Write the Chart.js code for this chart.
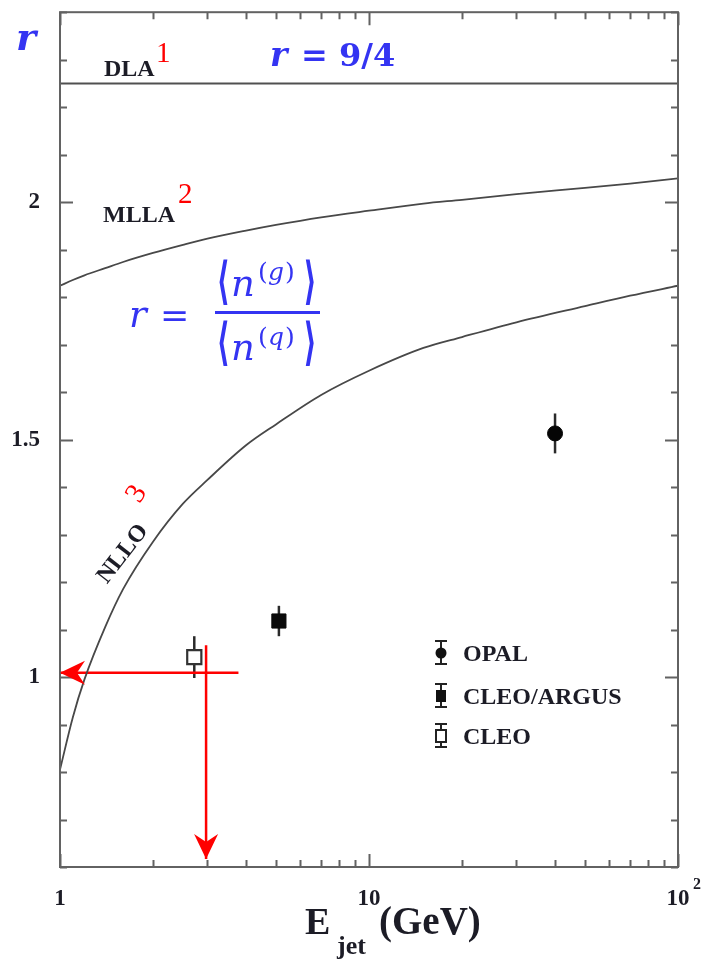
<!DOCTYPE html>
<html>
<head>
<meta charset="utf-8">
<title>Gluon to quark jet multiplicity ratio</title>
<script src="https://cdn.jsdelivr.net/npm/chart.js@4.4.1/dist/chart.umd.min.js"></script>
<style>
  html, body { margin: 0; padding: 0; background: #ffffff; }
  #wrap { width: 702px; height: 961px; position: relative; }
</style>
</head>
<body>
<div id="wrap"><canvas id="chart" width="702" height="961"></canvas></div>
<script>
// Jet energies (GeV) at which the theory predictions are tabulated
const curveEnergy = [1, 1.1, 1.2, 1.4, 1.6, 2, 2.5, 3, 4, 5, 7, 10, 15, 20, 30, 50, 70, 100];
// Modified leading log approximation
const mllaRatio = [1.824, 1.836, 1.846, 1.861, 1.874, 1.893, 1.910, 1.923, 1.940, 1.952, 1.968, 1.982, 1.997, 2.005, 2.017, 2.030, 2.039, 2.050];
// Next-to-next-to-leading order
const nlloRatio = [0.805, 0.915, 0.995, 1.105, 1.185, 1.285, 1.365, 1.415, 1.488, 1.532, 1.594, 1.645, 1.693, 1.716, 1.747, 1.781, 1.803, 1.824];
// Double logarithmic approximation: r = 9/4
const dlaEnergy = [1, 100];
const dlaRatio = [2.25, 2.25];

// Measurements
const opalEnergy = [40.0];
const opalRatio = [1.513];
const opalError = [0.042];
const cleoArgusEnergy = [5.11];
const cleoArgusRatio = [1.118];
const cleoArgusError = [0.032];
const cleoEnergy = [2.72];
const cleoRatio = [1.042];
const cleoError = [0.044];

// Read-off guides (arrows)
const guideHEnergy = [3.78, 1.0];
const guideHRatio = [1.009, 1.009];
const guideVEnergy = [2.97, 2.97];
const guideVRatio = [1.067, 0.617];

// Axes
const xMin = 1, xMax = 100;
const yMin = 0.6, yMax = 2.4;
const xLabelValues = [1, 10, 100];
const xLabelTexts = ['1', '10', '10'];
const xLabelExponents = ['', '', '2'];
const yLabelValues = [1, 1.5, 2];
const yLabelTexts = ['1', '1.5', '2'];
const xTickMarks = [1, 2, 3, 4, 5, 6, 7, 8, 9, 10, 20, 30, 40, 50, 60, 70, 80, 90, 100];
const xMajorMarks = [1, 10, 100];
const yTickMarks = [0.6, 0.7, 0.8, 0.9, 1.0, 1.1, 1.2, 1.3, 1.4, 1.5, 1.6, 1.7, 1.8, 1.9, 2.0, 2.1, 2.2, 2.3, 2.4];
const yMajorMarks = [1.0, 1.5, 2.0];

const legendNames = ['OPAL', 'CLEO/ARGUS', 'CLEO'];

const SERIF = '"Liberation Serif", "Times New Roman", serif';
const MATH = '"DejaVu Serif", serif';
const BLUE = '#3434f2';
const RED = '#ff0000';
const INK = '#1c1c26';

const toPoints = (xs, ys) => xs.map((x, i) => ({ x: x, y: ys[i] }));

// Scales keep the plot frame fixed: no extra room for edge labels
const noScalePadding = s => { s.paddingTop = 0; s.paddingBottom = 0; s.paddingLeft = 0; s.paddingRight = 0; };

// Frame, inward tick marks, error bars, arrowheads and annotations
const decorations = {
  id: 'decorations',
  beforeDatasetsDraw(chart) {
    const { ctx, scales: { x, y } } = chart;
    ctx.save();
    ctx.strokeStyle = '#2a2a2a';
    ctx.lineWidth = 2.5;
    const bars = [[opalEnergy, opalRatio, opalError], [cleoArgusEnergy, cleoArgusRatio, cleoArgusError], [cleoEnergy, cleoRatio, cleoError]];
    bars.forEach(([es, rs, errs]) => {
      es.forEach((e, i) => {
        const px = x.getPixelForValue(e);
        ctx.beginPath();
        ctx.moveTo(px, y.getPixelForValue(rs[i] + errs[i]));
        ctx.lineTo(px, y.getPixelForValue(rs[i] - errs[i]));
        ctx.stroke();
      });
    });
    ctx.restore();
  },
  afterDatasetsDraw(chart) {
    const { ctx, chartArea: a, scales: { x, y } } = chart;
    ctx.save();
    // frame
    ctx.strokeStyle = '#626262';
    ctx.lineWidth = 2;
    ctx.strokeRect(a.left, a.top, a.right - a.left, a.bottom - a.top);
    // ticks
    yTickMarks.forEach(v => {
      const py = Math.round(y.getPixelForValue(v)) + 0.5;
      const len = yMajorMarks.some(m => Math.abs(m - v) < 1e-6) ? 13 : 7;
      ctx.beginPath();
      ctx.moveTo(a.left, py); ctx.lineTo(a.left + len, py);
      ctx.moveTo(a.right, py); ctx.lineTo(a.right - len, py);
      ctx.stroke();
    });
    xTickMarks.forEach(v => {
      const px = Math.round(x.getPixelForValue(v)) + 0.5;
      const len = xMajorMarks.includes(v) ? 13 : 7;
      ctx.beginPath();
      ctx.moveTo(px, a.bottom); ctx.lineTo(px, a.bottom - len);
      ctx.moveTo(px, a.top); ctx.lineTo(px, a.top + len);
      ctx.stroke();
    });
    // arrowheads at the end of each guide
    const arrowHead = (xs, ys) => {
      const n = xs.length;
      const x1 = x.getPixelForValue(xs[n - 2]), y1 = y.getPixelForValue(ys[n - 2]);
      const x2 = x.getPixelForValue(xs[n - 1]), y2 = y.getPixelForValue(ys[n - 1]);
      const ang = Math.atan2(y2 - y1, x2 - x1);
      ctx.save();
      ctx.translate(x2, y2);
      ctx.rotate(ang);
      ctx.fillStyle = RED;
      ctx.beginPath();
      ctx.moveTo(0, 0);
      ctx.lineTo(-25, -12);
      ctx.lineTo(-17, 0);
      ctx.lineTo(-25, 12);
      ctx.closePath();
      ctx.fill();
      ctx.restore();
    };
    arrowHead(guideHEnergy, guideHRatio);
    arrowHead(guideVEnergy, guideVRatio);
    ctx.restore();
  },
  afterDraw(chart) {
    const { ctx, scales: { x } } = chart;
    ctx.save();
    ctx.textBaseline = 'alphabetic';
    // exponent on the last x label
    xLabelValues.forEach((v, i) => {
      if (!xLabelExponents[i]) return;
      const px = x.getPixelForValue(v);
      ctx.font = 'bold 16px ' + SERIF;
      ctx.fillStyle = INK;
      ctx.textAlign = 'left';
      ctx.fillText(xLabelExponents[i], px + 15, 889);
    });

    // x-axis title: E_jet (GeV)
    ctx.fillStyle = INK;
    ctx.textAlign = 'left';
    ctx.font = 'bold 38px ' + SERIF;
    ctx.fillText('E', 305, 934);
    ctx.font = 'bold 26px ' + SERIF;
    ctx.fillText('jet', 337, 954);
    ctx.font = 'bold 39px ' + SERIF;
    ctx.fillText('(GeV)', 379, 934);

    // y-axis symbol
    ctx.fillStyle = BLUE;
    ctx.font = 'bold italic 38px ' + MATH;
    ctx.fillText('r', 16, 50);

    // curve names with reference numbers
    ctx.fillStyle = INK;
    ctx.font = 'bold 24px ' + SERIF;
    ctx.fillText('DLA', 104, 76);
    ctx.fillText('MLLA', 103, 222);
    ctx.fillStyle = RED;
    ctx.font = '29px ' + SERIF;
    ctx.fillText('1', 156, 62);
    ctx.fillText('2', 178, 203);

    ctx.save();
    ctx.translate(123, 554);
    ctx.rotate(-52 * Math.PI / 180);
    ctx.fillStyle = INK;
    ctx.font = 'bold 24px ' + SERIF;
    ctx.textAlign = 'center';
    ctx.textBaseline = 'middle';
    ctx.fillText('NLLO', 0, 0);
    ctx.restore();
    ctx.save();
    ctx.translate(137, 494);
    ctx.rotate(-58 * Math.PI / 180);
    ctx.fillStyle = RED;
    ctx.font = '29px ' + SERIF;
    ctx.textAlign = 'center';
    ctx.textBaseline = 'middle';
    ctx.fillText('3', 0, 0);
    ctx.restore();

    // r = 9/4
    ctx.fillStyle = BLUE;
    ctx.textAlign = 'left';
    ctx.font = 'bold italic 33px ' + MATH;
    ctx.fillText('r', 270, 66);
    ctx.font = 'bold 32px ' + MATH;
    ctx.fillText('=', 301, 66);
    ctx.fillText('9/4', 339, 66);

    // r = <n^(g)> / <n^(q)>
    ctx.font = 'italic 37px ' + MATH;
    ctx.fillText('r', 129, 327);
    ctx.font = '35px ' + MATH;
    ctx.fillText('=', 160, 327);
    ctx.fillRect(215, 311, 105, 3);
    const bracket = (ch, cx, cy) => {
      ctx.save();
      ctx.translate(cx, cy);
      ctx.scale(0.85, 1.5);
      ctx.font = 'bold 34px "DejaVu Sans", sans-serif';
      ctx.textAlign = 'center';
      ctx.textBaseline = 'middle';
      ctx.fillText(ch, 0, 0);
      ctx.restore();
    };
    const term = (sup, base, supBase, mid) => {
      bracket('\u27E8', 223, mid);
      ctx.textAlign = 'left';
      ctx.textBaseline = 'alphabetic';
      ctx.font = 'italic 37px ' + MATH;
      ctx.fillText('n', 231, base);
      ctx.font = '25px ' + MATH;
      ctx.fillText('(', 258, supBase);
      ctx.font = 'italic 25px ' + MATH;
      ctx.fillText(sup, 268, supBase);
      ctx.font = '25px ' + MATH;
      ctx.fillText(')', 285, supBase);
      bracket('\u27E9', 310, mid);
    };
    term('g', 296, 280, 285);
    term('q', 360, 345, 346);

    // legend
    const rows = [653, 696, 736];
    const sx = 441;
    ctx.strokeStyle = '#222';
    ctx.lineWidth = 2;
    rows.forEach((ry, i) => {
      ctx.beginPath();
      ctx.moveTo(sx, ry - 12); ctx.lineTo(sx, ry + 11);
      ctx.moveTo(sx - 6, ry - 12); ctx.lineTo(sx + 6, ry - 12);
      ctx.moveTo(sx - 6, ry + 11); ctx.lineTo(sx + 6, ry + 11);
      ctx.stroke();
      ctx.fillStyle = '#111';
      if (i === 0) {
        ctx.beginPath(); ctx.arc(sx, ry, 5.5, 0, Math.PI * 2); ctx.fill();
      } else if (i === 1) {
        ctx.fillRect(sx - 5, ry - 6, 10, 12);
      } else {
        ctx.fillStyle = '#fff';
        ctx.fillRect(sx - 5, ry - 6, 10, 12);
        ctx.strokeRect(sx - 5, ry - 6, 10, 12);
      }
      ctx.fillStyle = INK;
      ctx.font = 'bold 24px ' + SERIF;
      ctx.textAlign = 'left';
      ctx.fillText(legendNames[i], 463, ry + 8);
    });
    ctx.restore();
  }
};

new Chart(document.getElementById('chart'), {
  type: 'scatter',
  data: {
    datasets: [
      { label: 'NLLO', data: toPoints(curveEnergy, nlloRatio), showLine: true, borderColor: '#484848', borderWidth: 1.8, pointRadius: 0, cubicInterpolationMode: 'monotone' },
      { label: 'MLLA', data: toPoints(curveEnergy, mllaRatio), showLine: true, borderColor: '#484848', borderWidth: 1.8, pointRadius: 0, cubicInterpolationMode: 'monotone' },
      { label: 'DLA', data: toPoints(dlaEnergy, dlaRatio), showLine: true, borderColor: '#505050', borderWidth: 2, pointRadius: 0 },
      { label: legendNames[0], data: toPoints(opalEnergy, opalRatio), pointStyle: 'circle', pointRadius: 7.5, backgroundColor: '#050505', borderColor: '#050505', borderWidth: 1 },
      { label: legendNames[1], data: toPoints(cleoArgusEnergy, cleoArgusRatio), pointStyle: 'rect', pointRadius: 10, backgroundColor: '#0a0a0a', borderColor: '#0a0a0a', borderWidth: 1 },
      { label: legendNames[2], data: toPoints(cleoEnergy, cleoRatio), pointStyle: 'rect', pointRadius: 10, backgroundColor: '#ffffff', borderColor: '#333333', borderWidth: 2.2 },
      { label: 'guide-h', data: toPoints(guideHEnergy, guideHRatio), showLine: true, borderColor: RED, borderWidth: 2.5, pointRadius: 0, clip: false },
      { label: 'guide-v', data: toPoints(guideVEnergy, guideVRatio), showLine: true, borderColor: RED, borderWidth: 2.5, pointRadius: 0, clip: false }
    ]
  },
  options: {
    responsive: false,
    animation: false,
    events: [],
    layout: { padding: { top: 9, right: 24, left: 0, bottom: 0 } },
    plugins: { legend: { display: false }, tooltip: { enabled: false } },
    scales: {
      x: {
        type: 'logarithmic',
        min: xMin, max: xMax,
        grid: { display: false, drawTicks: false },
        border: { display: false },
        afterBuildTicks: s => { s.ticks = xLabelValues.map(v => ({ value: v })); },
        afterFit: s => { s.height = 94; noScalePadding(s); },
        ticks: {
          autoSkip: false, maxRotation: 0, padding: 18,
          color: INK,
          font: { family: SERIF, size: 23, weight: 'bold' },
          callback: (v, i) => xLabelTexts[i]
        }
      },
      y: {
        type: 'linear',
        min: yMin, max: yMax,
        grid: { display: false, drawTicks: false },
        border: { display: false },
        afterBuildTicks: s => { s.ticks = yLabelValues.map(v => ({ value: v })); },
        afterFit: s => { s.width = 60; noScalePadding(s); },
        ticks: {
          autoSkip: false, padding: 20,
          color: INK,
          font: { family: SERIF, size: 23, weight: 'bold' },
          callback: (v, i) => yLabelTexts[i]
        }
      }
    }
  },
  plugins: [decorations]
});
</script>
</body>
</html>
